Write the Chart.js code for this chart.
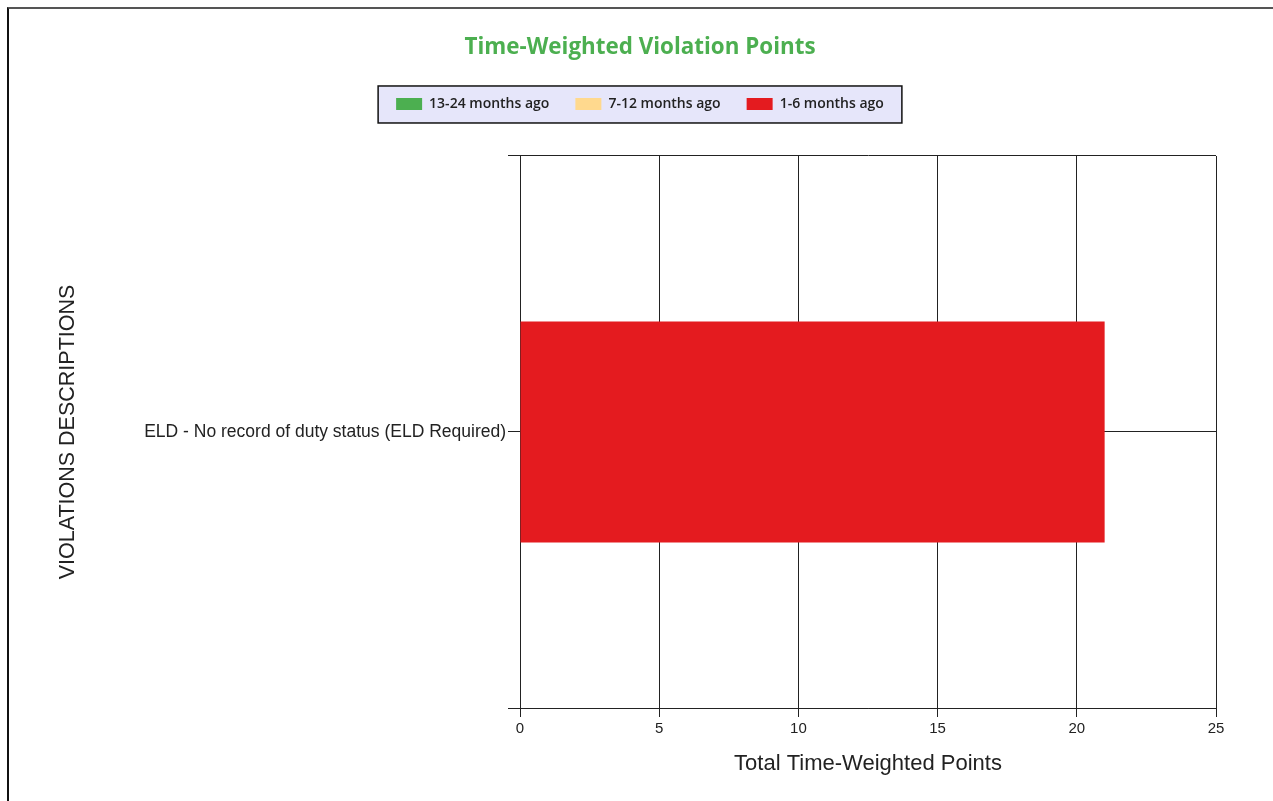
<!DOCTYPE html>
<html>
<head>
<meta charset="utf-8">
<script src="https://cdn.jsdelivr.net/npm/chart.js@4/dist/chart.umd.min.js"></script>
<style>
  html, body { margin: 0; padding: 0; background: #fff; }
  #frame {
    position: absolute; left: 7px; top: 7px;
    width: 1264px; height: 792px;
    border-left: 2px solid #111; border-top: 2px solid #555;
  }
</style>
</head>
<body>
<div id="frame"><canvas id="chart" width="1264" height="792"></canvas></div>
<script>
// données
const categories = ['ELD - No record of duty status (ELD Required)'];
const seriesNames = ['13-24 months ago', '7-12 months ago', '1-6 months ago'];
const older = [0];   // 13-24 mois
const middle = [0];  // 7-12 mois
const recent = [21]; // 1-6 mois
const xTicks = [0, 5, 10, 15, 20, 25];

const colors = ['#4CAF50', '#FFD98E', '#E41B1F'];
const gridColor = '#222';

// fond lavande derrière la légende
const legendBox = {
  id: 'legendBox',
  beforeDraw(chart) {
    const boxes = chart.legend && chart.legend.legendHitBoxes;
    if (!boxes || !boxes.length) return;
    const first = boxes[0], last = boxes[boxes.length - 1];
    const left = first.left - 18;
    const right = last.left + last.width + 18;
    const top = first.top - 11;
    const ctx = chart.ctx;
    ctx.save();
    ctx.fillStyle = '#E6E6FA';
    ctx.fillRect(left, top, right - left, 37);
    ctx.strokeStyle = '#111';
    ctx.lineWidth = 1.5;
    ctx.strokeRect(left, top, right - left, 37);
    ctx.restore();
  }
};

new Chart(document.getElementById('chart'), {
  type: 'bar',
  data: {
    labels: categories,
    datasets: [
      { label: seriesNames[0], data: older, backgroundColor: colors[0] },
      { label: seriesNames[1], data: middle, backgroundColor: colors[1] },
      { label: seriesNames[2], data: recent, backgroundColor: colors[2] }
    ]
  },
  options: {
    indexAxis: 'y',
    responsive: false,
    animation: false,
    categoryPercentage: 1,
    barPercentage: 0.4,
    layout: { padding: { left: 55, right: 57, top: 0, bottom: 0 } },
    plugins: {
      tooltip: { enabled: false },
      title: {
        display: true,
        text: 'Time-Weighted Violation Points',
        color: '#4CAF50',
        font: { family: 'Open Sans', size: 22.4, weight: 'bold', lineHeight: 1.2 },
        padding: { top: 25, bottom: 10.1 }
      },
      // espace vide entre la légende et le graphique
      subtitle: {
        display: true,
        text: '',
        weight: 500,
        font: { size: 10, lineHeight: 1 },
        padding: { top: 25, bottom: 0 }
      },
      legend: {
        display: true,
        position: 'top',
        labels: {
          boxWidth: 26,
          boxHeight: 12,
          padding: 26,
          color: '#222',
          font: { family: 'Open Sans', size: 14, weight: '600' }
        }
      }
    },
    scales: {
      x: {
        stacked: true,
        min: 0,
        max: 25,
        afterBuildTicks: (scale) => { scale.ticks = xTicks.map(v => ({ value: v })); },
        afterFit: (scale) => { scale.height = 93; },
        grid: { color: gridColor, tickLength: 9, drawTicks: true },
        border: { color: gridColor },
        ticks: {
          padding: 3,
          color: '#222',
          font: { family: 'Liberation Sans', size: 15 }
        },
        title: {
          display: true,
          text: 'Total Time-Weighted Points',
          color: '#222',
          font: { family: 'Liberation Sans', size: 22, lineHeight: 1.2 },
          padding: { top: 0, bottom: 24 }
        }
      },
      y: {
        stacked: true,
        weight: 1,
        afterFit: (scale) => { scale.width = 456; },
        grid: { color: gridColor, offset: true, tickLength: 12 },
        border: { color: gridColor },
        ticks: {
          padding: 2,
          color: '#222',
          font: { family: 'Liberation Sans', size: 17.5 }
        },
        title: {
          display: true,
          text: 'VIOLATIONS DESCRIPTIONS',
          color: '#222',
          font: { family: 'Liberation Sans', size: 21.5, lineHeight: 1.2 },
          padding: { top: -9, bottom: 0 }
        }
      },
      // axe caché pour la ligne au centre de la catégorie
      y2: {
        type: 'category',
        axis: 'y',
        position: 'left',
        weight: 0,
        labels: categories,
        offset: true,
        afterFit: (scale) => { scale.width = 0; },
        grid: { color: gridColor, offset: false, tickLength: 12 },
        border: { display: false },
        ticks: { display: false }
      }
    }
  },
  plugins: [legendBox]
});
</script>
</body>
</html>
